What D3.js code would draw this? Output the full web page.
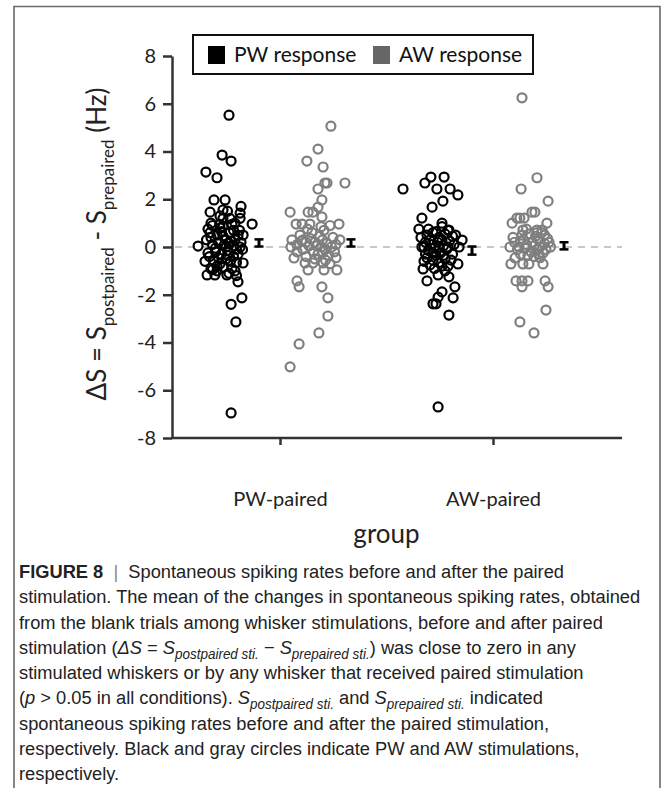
<!DOCTYPE html>
<html>
<head>
<meta charset="utf-8">
<script src="https://cdn.jsdelivr.net/npm/d3@7"></script>
<style>
  body { margin: 0; background: #fff; }
  svg { display: block; }
</style>
</head>
<body>
<svg id="chart"></svg>
<script>
// ---- Data ----
const GROUPS = ['PW-paired', 'AW-paired'];
const RESPONSES = ['PW response', 'AW response'];
const Y_TICKS = [-8, -6, -4, -2, 0, 2, 4, 6, 8];

// Each point: [jitter (-1..1 within its column), ΔS in Hz]
const pwPairedPW = [
  [0.1, 5.52], [-0.13, 3.85], [0.17, 3.6], [-0.67, 3.14], [-0.3, 2.9], [-0.4, 1.97], [-0.03, 1.97],
  [0.5, 1.7], [-0.53, 1.46], [-0.1, 1.55], [0.47, 1.42], [-0.1, 1.2], [0.13, 1.2], [0.47, 1.2],
  [0.87, 0.96], [-0.5, 1.0], [-0.2, 0.8], [-0.53, 0.6], [0.57, 0.5], [-0.93, 0.04], [0.47, 0.0],
  [-0.6, -0.25], [0.57, -0.67], [-0.3, -0.8], [-0.63, -1.17], [-0.37, -1.17], [0.03, -1.17],
  [0.4, -1.46], [0.53, -2.13], [0.17, -2.4], [0.33, -3.14], [0.17, -6.95],
  [-0.5, 0.4], [-0.3, 0.5], [-0.1, 0.45], [0.1, 0.6], [0.3, 0.3], [-0.45, 0.1], [-0.25, 0.2],
  [-0.05, 0.1], [0.15, 0.25], [0.35, -0.1], [-0.55, -0.4], [-0.35, -0.2], [-0.15, -0.3],
  [0.05, -0.15], [0.25, -0.4], [-0.4, -0.6], [-0.2, -0.7], [0.0, -0.5], [0.2, -0.9], [0.4, -0.3],
  [-0.6, 0.75], [-0.1, 0.85], [0.2, 0.95], [0.45, 0.7], [-0.3, -1.0], [0.1, -1.1], [0.35, -1.2],
  [-0.5, -0.9], [0.0, 0.3], [0.25, 0.05], [-0.2, 1.3], [0.05, 1.5],
  [-0.45, 0.9], [-0.2, 0.95], [0.3, 1.0], [0.5, 0.2], [0.55, -0.1], [-0.65, 0.3], [-0.7, -0.6],
  [0.15, -0.6], [0.35, -0.65], [-0.1, -0.85], [-0.15, 0.65], [0.25, 0.7], [0.0, 0.0], [-0.35, -0.05],
  [0.4, 0.5], [0.1, 0.15], [-0.25, -0.45], [0.05, -0.35], [-0.45, -0.95], [0.3, -1.0]
];
const pwPairedAW = [
  [0.43, 5.06], [0, 4.1], [-0.37, 3.6], [0.17, 3.35], [0.23, 2.68], [0.3, 2.68], [0.9, 2.68],
  [0, 2.43], [0.13, 1.97], [0, 1.67], [-0.93, 1.46], [-0.33, 1.46], [-0.17, 1.46], [0.13, 1.26],
  [-0.73, 0.96], [-0.53, 0.96], [-0.27, 0.96], [0.7, 0.96], [-0.87, 0.3], [-0.5, 0.3], [0.73, 0.3],
  [-0.8, -0.46], [-0.43, -0.67], [-0.17, -0.67], [0.17, -0.67], [-0.33, -0.96], [0.2, -0.96],
  [0.63, -0.96], [-0.7, -1.42], [-0.63, -1.67], [0.13, -1.67], [0.33, -2.13], [0.33, -2.89],
  [0.03, -3.6], [-0.63, -4.06], [-0.93, -5.02],
  [-0.9, 0.0], [-0.7, 0.1], [-0.5, -0.1], [-0.3, 0.05], [-0.1, 0.2], [0.1, 0.0], [0.3, 0.15],
  [0.5, 0.4], [0.6, 0.1], [-0.6, 0.5], [-0.2, 0.6], [0.2, 0.7], [0.4, 0.9], [0.05, 0.45],
  [-0.4, -0.4], [0.0, -0.3], [0.35, -0.35], [-0.15, -0.2], [0.25, -0.55], [0.55, -0.2],
  [-0.25, 0.35], [0.15, 0.3],
  [-0.7, -0.2], [-0.4, 0.2], [-0.05, 0.05], [0.25, -0.1], [0.45, 0.0], [-0.35, 0.75], [0.1, 0.85],
  [-0.1, -0.5], [0.4, -0.7], [0.6, -0.45], [-0.55, 0.25], [0.15, -0.2]
];
const awPairedPW = [
  [-1.2, 2.43], [-0.27, 2.93], [0.17, 2.93], [-0.47, 2.68], [-0.07, 2.43], [0.37, 2.43], [0.63, 2.18],
  [0.13, 1.92], [-0.23, 1.67], [-0.57, 1.21], [0.1, 1.0], [-0.67, 0.75], [0.33, 0.71], [0.77, 0.29],
  [-0.57, 0.0], [0.67, 0.0], [0.63, -0.71], [-0.53, -0.92], [-0.4, -1.42], [-0.03, -1.17],
  [0.33, -1.25], [0.53, -1.67], [0.1, -1.88], [-0.03, -2.1], [-0.2, -2.38], [-0.1, -2.38],
  [0.47, -2.13], [0.33, -2.85], [-0.03, -6.7],
  [-0.4, 0.5], [-0.2, 0.6], [0.0, 0.4], [0.2, 0.55], [0.45, 0.45], [-0.45, 0.2], [-0.25, 0.1],
  [-0.05, 0.2], [0.15, 0.05], [0.35, 0.25], [-0.35, -0.15], [-0.15, -0.05], [0.05, -0.25],
  [0.25, -0.1], [0.45, -0.3], [-0.4, -0.45], [-0.2, -0.55], [0.0, -0.65], [0.2, -0.5],
  [-0.3, -0.75], [0.1, 0.85], [-0.1, -0.35], [0.3, -0.8], [-0.5, -0.6],
  [-0.5, 0.0], [-0.3, 0.3], [0.1, 0.3], [0.3, 0.0], [0.5, 0.1], [-0.1, 0.65], [0.3, 0.7],
  [-0.35, 0.75], [0.0, 0.0], [-0.2, -0.25], [0.15, -0.35], [0.4, -0.55], [-0.45, -0.3],
  [0.1, -0.8], [-0.15, -0.9], [0.2, -1.0], [0.55, 0.5], [-0.6, 0.4]
];
const awPairedAW = [
  [-0.3, 6.25], [0.2, 2.9], [-0.33, 2.43], [0.57, 1.92], [0.03, 1.46], [0.13, 1.46], [-0.47, 1.21],
  [-0.37, 1.21], [-0.23, 1.21], [-0.63, 1.0], [0.53, 1.0], [-0.27, 0.71], [0.2, 0.71], [0.37, 0.71],
  [-0.7, 0.0], [-0.53, -0.46], [-0.67, -0.71], [-0.27, -0.71], [-0.07, -0.71], [0.4, -0.71],
  [-0.5, -1.42], [-0.3, -1.42], [-0.1, -1.42], [-0.3, -1.67], [0.47, -1.42], [0.57, -1.67],
  [0.5, -2.64], [-0.37, -3.14], [0.1, -3.6],
  [-0.55, 0.2], [-0.35, 0.25], [-0.15, 0.1], [0.05, 0.2], [0.25, 0.3], [0.45, 0.15], [0.65, 0.0],
  [-0.45, -0.1], [-0.2, -0.05], [0.0, -0.2], [0.2, -0.1], [0.4, -0.25], [-0.3, 0.5], [-0.05, 0.55],
  [0.15, 0.45], [0.35, 0.6], [0.1, -0.4], [0.3, -0.45], [-0.1, -0.35], [0.55, 0.35],
  [-0.6, 0.4], [-0.4, 0.0], [-0.25, 0.3], [0.1, 0.05], [0.3, 0.0], [0.5, -0.1], [0.2, 0.6],
  [-0.15, 0.75], [0.45, 0.5], [0.25, -0.3], [-0.35, -0.3], [0.6, 0.2]
];

// mean and SEM per column, same order as SERIES
const MEANS = [0.17, 0.17, -0.15, 0.05];
const SEMS = [0.15, 0.15, 0.17, 0.15];

const SERIES = [
  { group: 'PW-paired', response: 'PW response', points: pwPairedPW },
  { group: 'PW-paired', response: 'AW response', points: pwPairedAW },
  { group: 'AW-paired', response: 'PW response', points: awPairedPW },
  { group: 'AW-paired', response: 'AW response', points: awPairedAW }
].map((s, i) => ({ ...s, mean: MEANS[i], sem: SEMS[i] }));

// ---- Styles ----
const COLOR_PW = '#000';
const COLOR_AW = '#7f7f7f';
const AXIS_COLOR = '#333';
const CHART_FONT = 'Lato, "Open Sans", sans-serif';
const CAPTION_FONT = '"Liberation Sans", Arial, sans-serif';

const W = 668, H = 788;
const plot = { left: 172, right: 622, top: 56, bottom: 438 };

const svg = d3.select('#chart').attr('width', W).attr('height', H);

// Outer frame
svg.append('path')
  .attr('d', `M14,${H + 5} V6.5 H660 V${H + 5}`)
  .attr('fill', 'none')
  .attr('stroke', '#6a6a6a')
  .attr('stroke-width', 1.6);

// Scales
const y = d3.scaleLinear().domain([-8, 8]).range([plot.bottom, plot.top]);
const x = d3.scalePoint().domain(GROUPS).range([280, 493]);
const xSub = d3.scaleOrdinal().domain(RESPONSES).range([-54, 38]);
const jitter = d3.scaleLinear().domain([-1, 1]).range([-30, 30]);
const colorOf = d3.scaleOrdinal().domain(RESPONSES).range([COLOR_PW, COLOR_AW]);
const colCenter = s => x(s.group) + xSub(s.response);

// Zero reference line
svg.append('line')
  .attr('x1', plot.left + 3).attr('x2', plot.right)
  .attr('y1', y(0)).attr('y2', y(0))
  .attr('stroke', '#c8c8c8')
  .attr('stroke-width', 2)
  .attr('stroke-dasharray', '7,6');

// Y axis
const yAxis = svg.append('g')
  .attr('transform', `translate(${plot.left},0)`)
  .call(d3.axisLeft(y).tickValues(Y_TICKS).tickFormat(d => String(d))
    .tickSize(9).tickPadding(7).tickSizeOuter(0));
yAxis.select('.domain').attr('stroke', AXIS_COLOR).attr('stroke-width', 2.5);
yAxis.selectAll('.tick line').attr('stroke', AXIS_COLOR).attr('stroke-width', 2.5);
yAxis.selectAll('.tick text')
  .attr('font-family', CHART_FONT).attr('font-size', 20).attr('fill', '#222');

// X axis
svg.append('line')
  .attr('x1', plot.left - 1).attr('x2', plot.right)
  .attr('y1', plot.bottom).attr('y2', plot.bottom)
  .attr('stroke', AXIS_COLOR).attr('stroke-width', 2.5);
const xAxis = svg.append('g')
  .attr('transform', `translate(0,${plot.bottom})`)
  .call(d3.axisBottom(x).tickSize(7).tickPadding(47).tickSizeOuter(0));
xAxis.select('.domain').remove();
xAxis.selectAll('.tick line').attr('stroke', AXIS_COLOR).attr('stroke-width', 2.5);
xAxis.selectAll('.tick text')
  .attr('font-family', CHART_FONT).attr('font-size', 20).attr('fill', '#222');

// X axis title
svg.append('text')
  .attr('x', (x(GROUPS[0]) + x(GROUPS[1])) / 2)
  .attr('y', 543)
  .attr('text-anchor', 'middle')
  .attr('font-family', CHART_FONT).attr('font-size', 26).attr('fill', '#222')
  .text('group');

// Y axis title with subscripts
const yTitle = svg.append('text')
  .attr('transform', 'translate(106,244) rotate(-90)')
  .attr('text-anchor', 'middle')
  .attr('font-family', CHART_FONT).attr('font-size', 26).attr('fill', '#222');
yTitle.append('tspan').text('ΔS = S');
yTitle.append('tspan').attr('font-size', 17).attr('dy', 8).text('postpaired');
yTitle.append('tspan').attr('dy', -8).text(' - S');
yTitle.append('tspan').attr('font-size', 17).attr('dy', 8).text('prepaired');
yTitle.append('tspan').attr('dy', -8).text(' (Hz)');

// Points
const cols = svg.append('g').selectAll('g.col')
  .data(SERIES)
  .join('g')
  .attr('class', 'col');

cols.selectAll('circle')
  .data(s => s.points.map(p => ({ j: p[0], v: p[1], s })))
  .join('circle')
  .attr('cx', d => colCenter(d.s) + jitter(d.j))
  .attr('cy', d => y(d.v))
  .attr('r', 4.5)
  .attr('fill', 'none')
  .attr('stroke', d => colorOf(d.s.response))
  .attr('stroke-width', 2.2);

// Mean ± SEM bars
const errG = svg.append('g').selectAll('g.err')
  .data(SERIES)
  .join('g')
  .attr('class', 'err')
  .attr('transform', s => `translate(${colCenter(s) + 33},0)`);
errG.append('line')
  .attr('y1', s => y(s.mean - s.sem)).attr('y2', s => y(s.mean + s.sem))
  .attr('stroke', '#000').attr('stroke-width', 3);
errG.append('line')
  .attr('x1', -4.5).attr('x2', 4.5)
  .attr('y1', s => y(s.mean - s.sem)).attr('y2', s => y(s.mean - s.sem))
  .attr('stroke', '#000').attr('stroke-width', 2.5);
errG.append('line')
  .attr('x1', -4.5).attr('x2', 4.5)
  .attr('y1', s => y(s.mean + s.sem)).attr('y2', s => y(s.mean + s.sem))
  .attr('stroke', '#000').attr('stroke-width', 2.5);

// Legend
const legend = svg.append('g').attr('transform', 'translate(193,35)');
legend.append('rect')
  .attr('width', 340).attr('height', 39)
  .attr('fill', '#fff').attr('stroke', '#111').attr('stroke-width', 2);
const LEGEND_SWATCH = ['#000', '#666'];
const legItems = legend.selectAll('g.item')
  .data(RESPONSES)
  .join('g')
  .attr('class', 'item')
  .attr('transform', (d, i) => `translate(${15 + i * 165},11)`);
legItems.append('rect')
  .attr('width', 17).attr('height', 18)
  .attr('fill', (d, i) => LEGEND_SWATCH[i]);
legItems.append('text')
  .attr('x', 26).attr('y', 16)
  .attr('font-family', CHART_FONT).attr('font-size', 21).attr('fill', '#111')
  .text(d => d);

// ---- Caption ----
// segments: [text, style] where style: b=bold, i=italic, s=italic subscript, g=grey bar
const CAPTION_LINES = [
  [['FIGURE 8', 'b'], ['  |  ', 'g'], ['Spontaneous spiking rates before and after the paired', '']],
  [['stimulation. The mean of the changes in spontaneous spiking rates, obtained', '']],
  [['from the blank trials among whisker stimulations, before and after paired', '']],
  [['stimulation (', ''], ['ΔS', 'i'], [' = ', ''], ['S', 'i'], ['postpaired sti.', 's'], [' − ', ''],
   ['S', 'i'], ['prepaired sti.', 's'], [') was close to zero in any', '']],
  [['stimulated whiskers or by any whisker that received paired stimulation', '']],
  [['(', ''], ['p', 'i'], [' > 0.05 in all conditions). ', ''], ['S', 'i'], ['postpaired sti.', 's'],
   [' and ', ''], ['S', 'i'], ['prepaired sti.', 's'], [' indicated', '']],
  [['spontaneous spiking rates before and after the paired stimulation,', '']],
  [['respectively. Black and gray circles indicate PW and AW stimulations,', '']],
  [['respectively.', '']]
];

const capG = svg.append('g');
const capLines = capG.selectAll('text')
  .data(CAPTION_LINES)
  .join('text')
  .attr('x', 0)
  .attr('y', (d, i) => i * 25.3)
  .attr('font-family', CAPTION_FONT)
  .attr('font-size', 19)
  .attr('fill', '#222')
  .attr('xml:space', 'preserve');

capLines.each(function (segs) {
  const t = d3.select(this);
  let sub = false;
  segs.forEach(([txt, st]) => {
    const sp = t.append('tspan').text(txt);
    if (st === 'b') sp.attr('font-weight', 'bold');
    if (st === 'i' || st === 's') sp.attr('font-style', 'italic');
    if (st === 'g') sp.attr('fill', '#888');
    if (st === 's' && !sub) { sp.attr('font-size', 14).attr('dy', 5); sub = true; }
    else if (st !== 's' && sub) { sp.attr('dy', -5); sub = false; }
  });
});

// Compress caption horizontally to match the narrow typeface of the original
const refLen = capLines.nodes()[1].getComputedTextLength();
const sx = 622 / refLen;
capG.attr('transform', `translate(19,578) scale(${sx},1)`);
</script>
</body>
</html>
